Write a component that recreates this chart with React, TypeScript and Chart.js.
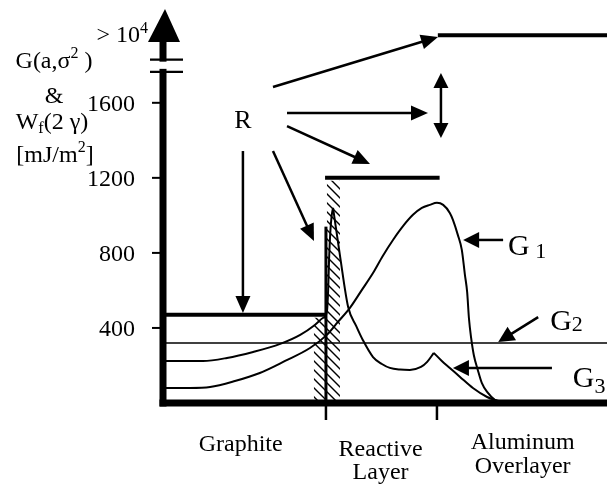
import { useEffect, useRef } from "react";
import { Chart, registerables } from "chart.js";

Chart.register(...registerables);

// ---------- axis data ----------
const yMax = 2100;
const yTickValues = [400, 800, 1200, 1600];
const yTickLabels = ["400", "800", "1200", "1600"];
const overflowValue = 1960; // plotted position of "> 10^4"
const axisBreak = [1765, 1830];

// ---------- layers ----------
const layerBoundaries = [36.7, 61.7];
const layerCenters = [17.5, 49, 81];
const layerLabels = [["Graphite"], ["Reactive", "Layer"], ["Aluminum", "Overlayer"]];

// ---------- W_f(2γ) levels ----------
const wfLevels = [470, 1200, 1960];
const wfStarts = [0, 36.5, 61.9];
const wfEnds = [36.7, 62.3, 100];
const interfaceWallTop = 940;

// ---------- G curves ----------
const g2Value = 320;

const g1X = [0, 6.1, 10.6, 16.2, 21.8, 27.5, 33.1, 36.9, 39.4, 42.1, 44.8, 47.3, 49.5, 51.8, 54.1, 56.3, 58.3, 60.1, 61.7, 63.1, 64.6, 65.3, 66.4, 67.3, 68.0, 68.5, 68.9, 69.4, 70.0, 70.9, 71.8, 73.0, 74.8, 77.0, 100];
const g1Y = [80, 80, 85, 117, 160, 224, 293, 363, 432, 507, 603, 693, 784, 869, 944, 1003, 1040, 1056, 1067, 1056, 1013, 976, 896, 816, 683, 592, 453, 347, 256, 176, 107, 59, 16, 0, 0];

const g3X = [0, 9.0, 14.4, 20.3, 26.4, 30.9, 34.2, 36.0, 36.9, 37.2, 37.4, 37.7, 38.0, 38.3, 39.9, 41.7, 43.5, 45.0, 47.3, 49.3, 51.1, 53.4, 55.6, 58.1, 59.5, 61.0, 62.8, 64.6, 66.9, 69.8, 73.0, 74.8, 76.6, 79, 100];
const g3Y = [224, 224, 240, 272, 315, 363, 416, 453, 485, 603, 763, 917, 1000, 1040, 779, 512, 411, 336, 245, 208, 187, 178, 176, 192, 219, 267, 224, 187, 139, 80, 32, 16, 5, 0, 0];
const g3Cusps = [38.3, 61.0];

// ---------- annotations (data coordinates) ----------
const rLabel = { text: "R", x: 18.0, y: 1467 };
const rArrowTails = [
  [24.77, 1684],
  [27.93, 1546],
  [27.93, 1476],
  [24.77, 1343],
  [18.0, 1343],
];
const rArrowTips = [
  [61.94, 1951],
  [59.68, 1546],
  [46.62, 1274],
  [34.0, 863],
  [18.0, 480],
];
const doubleArrow = [62.6, 1759, 1412];
const gLabels = ["1", "2", "3"];
const gLabelAnchors = [
  [77.7, 789],
  [87.2, 389],
  [92.3, 85],
];
const gArrowTails = [
  [76.6, 869],
  [84.5, 458],
  [87.6, 187],
];
const gArrowTips = [
  [67.6, 869],
  [75.5, 325],
  [65.3, 187],
];

const FONT = '"Liberation Serif", "Times New Roman", serif';

type Run = { t: string; size: number; dy: number };

function drawRuns(ctx: CanvasRenderingContext2D, runs: Run[], x: number, y: number, align: "left" | "center" | "right") {
  let total = 0;
  const widths: number[] = [];
  for (const r of runs) {
    ctx.font = `${r.size}px ${FONT}`;
    const w = ctx.measureText(r.t).width;
    widths.push(w);
    total += w;
  }
  let cx = align === "left" ? x : align === "center" ? x - total / 2 : x - total;
  ctx.textAlign = "left";
  ctx.textBaseline = "alphabetic";
  runs.forEach((r, i) => {
    ctx.font = `${r.size}px ${FONT}`;
    ctx.fillText(r.t, cx, y + r.dy);
    cx += widths[i];
  });
}

function arrowHead(ctx: CanvasRenderingContext2D, x1: number, y1: number, x2: number, y2: number, head: number, half: number) {
  const a = Math.atan2(y2 - y1, x2 - x1);
  const c = Math.cos(a);
  const s = Math.sin(a);
  const bx = x2 - head * c;
  const by = y2 - head * s;
  ctx.beginPath();
  ctx.moveTo(x2, y2);
  ctx.lineTo(bx + half * s, by - half * c);
  ctx.lineTo(bx - half * s, by + half * c);
  ctx.closePath();
  ctx.fill();
  return [bx, by];
}

function arrow(ctx: CanvasRenderingContext2D, x1: number, y1: number, x2: number, y2: number, head = 16, half = 7, lw = 2.5) {
  const a = Math.atan2(y2 - y1, x2 - x1);
  const bx = x2 - (head - 2) * Math.cos(a);
  const by = y2 - (head - 2) * Math.sin(a);
  ctx.lineWidth = lw;
  ctx.beginPath();
  ctx.moveTo(x1, y1);
  ctx.lineTo(bx, by);
  ctx.stroke();
  arrowHead(ctx, x1, y1, x2, y2, head, half);
}

const diagramPlugin = {
  id: "diagram",
  beforeDatasetsDraw(chart: any) {
    const ctx: CanvasRenderingContext2D = chart.ctx;
    const xs = chart.scales.x;
    const ys = chart.scales.y;
    const y0 = ys.getPixelForValue(0);
    const xi = xs.getPixelForValue(layerBoundaries[0]);
    const yTopR = ys.getPixelForValue(wfLevels[1]) + 3;
    const yTopL = ys.getPixelForValue(wfLevels[0]) + 3;
    const yb = y0 - 3;
    ctx.save();
    ctx.beginPath();
    ctx.rect(xi + 1, yTopR, 13, yb - yTopR);
    ctx.rect(xi - 12, yTopL, 11, yb - yTopL);
    ctx.clip();
    ctx.strokeStyle = "#000";
    ctx.lineWidth = 1.4;
    ctx.beginPath();
    for (let y = yTopR - 40; y < yb + 10; y += 9) {
      ctx.moveTo(xi - 16, y);
      ctx.lineTo(xi + 18, y + 34);
    }
    ctx.stroke();
    ctx.restore();
  },
  afterDatasetsDraw(chart: any) {
    const ctx: CanvasRenderingContext2D = chart.ctx;
    const xs = chart.scales.x;
    const ys = chart.scales.y;
    const x0 = xs.getPixelForValue(0);
    const y0 = ys.getPixelForValue(0);
    const right = chart.width;
    ctx.save();
    ctx.fillStyle = "#000";
    ctx.strokeStyle = "#000";

    // x axis
    ctx.fillRect(x0 - 3.5, y0 - 3.5, right - x0 + 3.5, 7);
    // y axis with break
    const bLow = ys.getPixelForValue(axisBreak[0]);
    const bHigh = ys.getPixelForValue(axisBreak[1]);
    const top = ys.getPixelForValue(yMax);
    ctx.fillRect(x0 - 3.5, bLow - 3, 7, y0 + 3.5 - (bLow - 3));
    const arrowBase = top + 33;
    ctx.fillRect(x0 - 3.5, arrowBase - 1, 7, bHigh + 3 - arrowBase);
    ctx.beginPath();
    ctx.moveTo(x0 - 15, arrowBase);
    ctx.lineTo(x0 + 17, arrowBase);
    ctx.lineTo(x0 + 2, top);
    ctx.closePath();
    ctx.fill();
    ctx.lineWidth = 2.2;
    ctx.beginPath();
    ctx.moveTo(x0 - 13, bLow);
    ctx.lineTo(x0 + 20, bLow);
    ctx.moveTo(x0 - 13, bHigh);
    ctx.lineTo(x0 + 20, bHigh);
    ctx.stroke();

    // y ticks
    ctx.lineWidth = 2;
    yTickValues.forEach((v, i) => {
      const py = ys.getPixelForValue(v);
      ctx.beginPath();
      ctx.moveTo(x0 - 11, py);
      ctx.lineTo(x0 - 3, py);
      ctx.stroke();
      drawRuns(ctx, [{ t: yTickLabels[i], size: 24, dy: 0 }], x0 - 28, py + 8, "right");
    });
    const po = ys.getPixelForValue(overflowValue);
    drawRuns(
      ctx,
      [
        { t: "> 10", size: 24, dy: 0 },
        { t: "4", size: 16, dy: -9 },
      ],
      x0 - 15,
      po + 7,
      "right"
    );

    // y title
    const tx = 54;
    drawRuns(ctx, [{ t: "G(a,σ", size: 24, dy: 0 }, { t: "2", size: 16, dy: -10 }, { t: " )", size: 24, dy: 0 }], tx, 68, "center");
    drawRuns(ctx, [{ t: "&", size: 24, dy: 0 }], tx, 103, "center");
    drawRuns(ctx, [{ t: "W", size: 24, dy: 0 }, { t: "f", size: 16, dy: 4 }, { t: "(2 γ)", size: 24, dy: 0 }], tx - 2, 129, "center");
    drawRuns(ctx, [{ t: "[mJ/m", size: 24, dy: 0 }, { t: "2", size: 16, dy: -10 }, { t: "]", size: 24, dy: 0 }], tx + 1, 162, "center");

    // x ticks at layer boundaries
    ctx.lineWidth = 2.5;
    layerBoundaries.forEach((b) => {
      const px = xs.getPixelForValue(b);
      ctx.beginPath();
      ctx.moveTo(px, y0);
      ctx.lineTo(px, y0 + 17);
      ctx.stroke();
    });

    // layer labels
    const baselines = [[48], [53, 76], [46, 70]];
    layerLabels.forEach((lines, i) => {
      const px = xs.getPixelForValue(layerCenters[i]);
      lines.forEach((line, j) => {
        drawRuns(ctx, [{ t: line, size: 24, dy: 0 }], px, y0 + baselines[i][j], "center");
      });
    });

    // R label and arrows
    drawRuns(ctx, [{ t: rLabel.text, size: 26, dy: 0 }], xs.getPixelForValue(rLabel.x), ys.getPixelForValue(rLabel.y), "center");
    rArrowTails.forEach((t, i) => {
      const tip = rArrowTips[i];
      arrow(ctx, xs.getPixelForValue(t[0]), ys.getPixelForValue(t[1]), xs.getPixelForValue(tip[0]), ys.getPixelForValue(tip[1]), 17, 7.5, 2.5);
    });
    // double-headed arrow
    const dx = xs.getPixelForValue(doubleArrow[0]);
    const dTop = ys.getPixelForValue(doubleArrow[1]);
    const dBot = ys.getPixelForValue(doubleArrow[2]);
    ctx.lineWidth = 2.5;
    ctx.beginPath();
    ctx.moveTo(dx, dTop + 10);
    ctx.lineTo(dx, dBot - 10);
    ctx.stroke();
    arrowHead(ctx, dx, dBot, dx, dTop, 15, 7.5);
    arrowHead(ctx, dx, dTop, dx, dBot, 15, 7.5);

    // G labels and pointers
    gLabels.forEach((g, i) => {
      const t = gArrowTails[i];
      const tip = gArrowTips[i];
      arrow(ctx, xs.getPixelForValue(t[0]), ys.getPixelForValue(t[1]), xs.getPixelForValue(tip[0]), ys.getPixelForValue(tip[1]), 16, 8, 2.5);
      const a = gLabelAnchors[i];
      const subDy = [3, 1, 6][i];
      drawRuns(
        ctx,
        [
          { t: "G", size: 30, dy: 0 },
          { t: i === 0 ? " " + g : g, size: 22, dy: subDy },
        ],
        xs.getPixelForValue(a[0]),
        ys.getPixelForValue(a[1]),
        "left"
      );
    });

    ctx.restore();
  },
};

function splitAt(xsArr: number[], ysArr: number[], cuts: number[]) {
  const segs: { x: number; y: number }[][] = [];
  let cur: { x: number; y: number }[] = [];
  xsArr.forEach((x, i) => {
    cur.push({ x, y: ysArr[i] });
    if (cuts.includes(x)) {
      segs.push(cur);
      cur = [{ x, y: ysArr[i] }];
    }
  });
  segs.push(cur);
  return segs;
}

export default function App() {
  const ref = useRef<HTMLCanvasElement | null>(null);

  useEffect(() => {
    if (!ref.current) return;
    const curve = (data: { x: number; y: number }[], label: string, width = 2) => ({
      label,
      data,
      borderColor: "#000",
      borderWidth: width,
      pointRadius: 0,
      fill: false,
      cubicInterpolationMode: "monotone" as const,
    });
    const straight = (data: { x: number; y: number }[], label: string, width: number) => ({
      label,
      data,
      borderColor: "#000",
      borderWidth: width,
      pointRadius: 0,
      fill: false,
      tension: 0,
      borderCapStyle: "butt" as const,
    });

    const datasets: any[] = [];
    wfLevels.forEach((lv, i) => {
      datasets.push(
        straight(
          [
            { x: wfStarts[i], y: lv },
            { x: wfEnds[i], y: lv },
          ],
          "Wf " + (i + 1),
          4
        )
      );
    });
    datasets.push(
      straight(
        [
          { x: layerBoundaries[0], y: 0 },
          { x: layerBoundaries[0], y: interfaceWallTop },
        ],
        "interface",
        3
      )
    );
    datasets.push(
      straight(
        [
          { x: 0, y: g2Value },
          { x: 100, y: g2Value },
        ],
        "G2",
        1.6
      )
    );
    datasets.push(curve(g1X.map((x, i) => ({ x, y: g1Y[i] })), "G1"));
    splitAt(g3X, g3Y, g3Cusps).forEach((seg, i) => datasets.push(curve(seg, "G3 part " + (i + 1))));

    const chart = new Chart(ref.current, {
      type: "line",
      data: { datasets },
      options: {
        animation: false,
        responsive: false,
        devicePixelRatio: 1,
        layout: { padding: { left: 163, right: 0, top: 9, bottom: 83 } },
        plugins: { legend: { display: false }, tooltip: { enabled: false } },
        scales: {
          x: { type: "linear", min: 0, max: 100, display: false },
          y: { type: "linear", min: 0, max: yMax, display: false },
        },
      },
      plugins: [diagramPlugin],
    });
    return () => chart.destroy();
  }, []);

  return (
    <div style={{ position: "absolute", left: 0, top: 0, width: 607, height: 486, background: "#fff" }}>
      <canvas ref={ref} width={607} height={486} style={{ display: "block" }} />
    </div>
  );
}
